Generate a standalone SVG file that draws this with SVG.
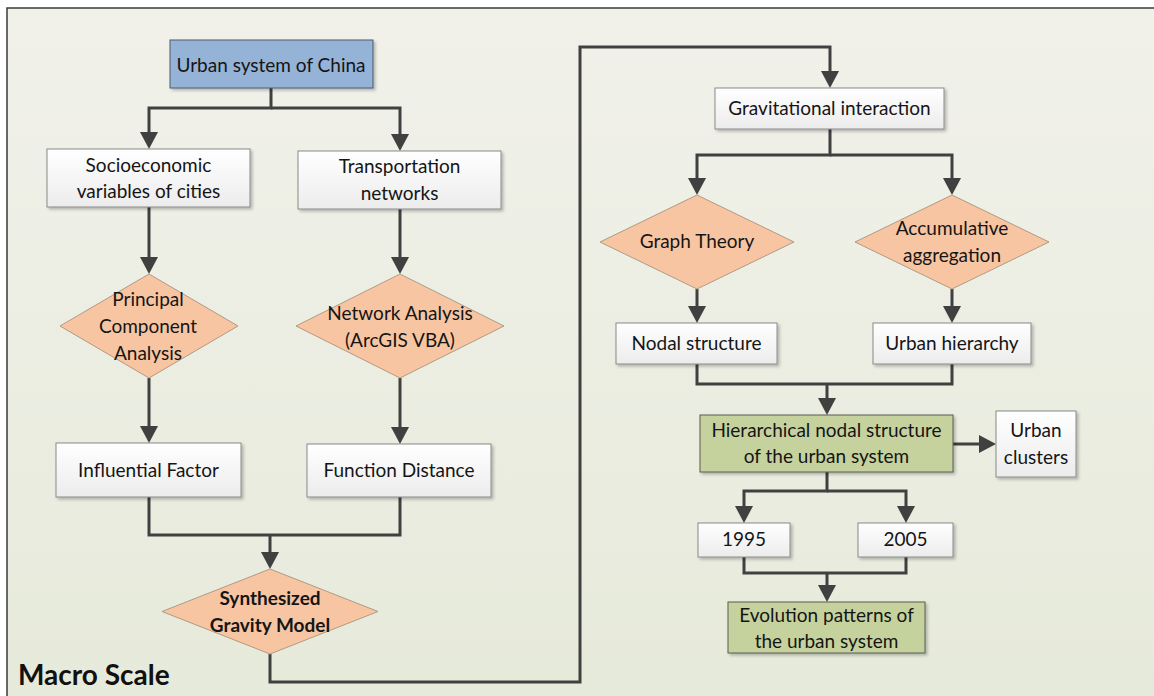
<svg xmlns="http://www.w3.org/2000/svg" width="1154" height="696" viewBox="0 0 1154 696">
<style>
.t{font-family:Lato,"Liberation Sans",sans-serif;font-size:19px;fill:#151515;text-anchor:middle}
.b{font-weight:bold}
.box{fill:url(#gw);stroke:#8a8a8a;stroke-width:1;filter:url(#sh)}
.blue{fill:#95b3d7;stroke:#4a5a70;stroke-width:1;filter:url(#sh)}
.green{fill:#c6d29e;stroke:#5a5a50;stroke-width:1;filter:url(#sh)}
.dia{fill:#f8c5a2;stroke:#b09a84;stroke-width:1}
.c{fill:none;stroke:#404040;stroke-width:3}
.a{marker-end:url(#ah)}
</style>
<defs>
<linearGradient id="bg" x1="0" y1="0" x2="0" y2="1">
<stop offset="0" stop-color="#f1f1ea"/>
<stop offset="1" stop-color="#e6eada"/>
</linearGradient>
<linearGradient id="gw" x1="0" y1="0" x2="0" y2="1">
<stop offset="0" stop-color="#ffffff"/>
<stop offset="1" stop-color="#ececec"/>
</linearGradient>
<filter id="sh" x="-10%" y="-20%" width="130%" height="150%">
<feDropShadow dx="2" dy="2" stdDeviation="1.5" flood-color="#000" flood-opacity="0.25"/>
</filter>
<marker id="ah" viewBox="0 0 17 18" markerWidth="17" markerHeight="18" refX="13" refY="9" orient="auto" markerUnits="userSpaceOnUse">
<path d="M0,0 L17,9 L0,18 z" fill="#404040"/>
</marker>
</defs>
<rect x="0" y="0" width="1154" height="696" fill="#ffffff"/>
<rect x="7" y="8" width="1150" height="700" fill="url(#bg)"/>
<path d="M7,710 V8 H1154" fill="none" stroke="#3a3a3a" stroke-width="1.5"/>

<g id="connectors">
<path class="c a" d="M271,88 V108 H149 V145"/>
<path class="c a" d="M271,108 H400 V147"/>
<path class="c a" d="M149,207 V270"/>
<path class="c a" d="M400,209 V270"/>
<path class="c a" d="M149,378 V439"/>
<path class="c a" d="M400,378 V440"/>
<path class="c" d="M149,497 V535 H400 V497"/>
<path class="c a" d="M270,535 V565"/>
<path class="c a" d="M270,654 V682 H580 V47 H830 V84"/>
<path class="c a" d="M830,129 V155 H697 V191"/>
<path class="c a" d="M830,155 H952 V191"/>
<path class="c a" d="M697,289 V319"/>
<path class="c a" d="M952,289 V319"/>
<path class="c" d="M697,364 V384 H952 V364"/>
<path class="c a" d="M827,384 V411"/>
<path class="c a" d="M953,444 H992"/>
<path class="c a" d="M827,472 V491 H744 V519"/>
<path class="c a" d="M827,491 H906 V519"/>
<path class="c" d="M744,557 V573 H906 V557"/>
<path class="c a" d="M827,573 V598"/>
</g>

<g id="urban-system">
<rect class="blue" x="170" y="40" width="203" height="48"/>
<text class="t" x="271" y="72">Urban system of China</text>
</g>
<g id="socioeconomic">
<rect class="box" x="47" y="149" width="203" height="58"/>
<text class="t" x="148.5" y="172">Socioeconomic</text>
<text class="t" x="148.5" y="198">variables of cities</text>
</g>
<g id="transportation">
<rect class="box" x="298" y="151" width="203" height="58"/>
<text class="t" x="399.5" y="173">Transportation</text>
<text class="t" x="399.5" y="200">networks</text>
</g>
<g id="pca">
<polygon class="dia" points="149,274 238,326 149,378 60,326"/>
<text class="t" x="148" y="306">Principal</text>
<text class="t" x="148" y="333">Component</text>
<text class="t" x="148" y="360">Analysis</text>
</g>
<g id="network-analysis">
<polygon class="dia" points="400,274 504,326 400,378 296,326"/>
<text class="t" x="400" y="320">Network Analysis</text>
<text class="t" x="400" y="347">(ArcGIS VBA)</text>
</g>
<g id="influential-factor">
<rect class="box" x="56" y="443" width="185" height="54"/>
<text class="t" x="148.5" y="477">Influential Factor</text>
</g>
<g id="function-distance">
<rect class="box" x="307" y="444" width="184" height="53"/>
<text class="t" x="399" y="477">Function Distance</text>
</g>
<g id="gravity-model">
<polygon class="dia" points="270,569 378,611.5 270,654 162,611.5"/>
<text class="t b" x="270" y="605">Synthesized</text>
<text class="t b" x="270" y="632">Gravity Model</text>
</g>
<g id="macro-scale">
<text x="18" y="685" style="font-family:Lato,'Liberation Sans',sans-serif;font-size:28px;font-weight:bold;fill:#111">Macro Scale</text>
</g>
<g id="gravitational">
<rect class="box" x="715" y="88" width="229" height="41"/>
<text class="t" x="829.5" y="115">Gravitational interaction</text>
</g>
<g id="graph-theory">
<polygon class="dia" points="697,195 794,242 697,289 600,242"/>
<text class="t" x="697" y="248">Graph Theory</text>
</g>
<g id="accumulative">
<polygon class="dia" points="952,195 1049,242 952,289 855,242"/>
<text class="t" x="952" y="235">Accumulative</text>
<text class="t" x="952" y="262">aggregation</text>
</g>
<g id="nodal-structure">
<rect class="box" x="616" y="323" width="161" height="41"/>
<text class="t" x="696.5" y="350">Nodal structure</text>
</g>
<g id="urban-hierarchy">
<rect class="box" x="873" y="323" width="158" height="41"/>
<text class="t" x="952" y="350">Urban hierarchy</text>
</g>
<g id="hierarchical">
<rect class="green" x="700" y="415" width="253" height="57"/>
<text class="t" x="826.5" y="437">Hierarchical nodal structure</text>
<text class="t" x="826.5" y="463">of the urban system</text>
</g>
<g id="urban-clusters">
<rect class="box" x="996" y="411" width="80" height="66"/>
<text class="t" x="1036" y="437">Urban</text>
<text class="t" x="1036" y="464">clusters</text>
</g>
<g id="y1995">
<rect class="box" x="698" y="523" width="92" height="34"/>
<text class="t" x="744" y="546">1995</text>
</g>
<g id="y2005">
<rect class="box" x="858" y="523" width="95" height="34"/>
<text class="t" x="905.5" y="546">2005</text>
</g>
<g id="evolution">
<rect class="green" x="728" y="602" width="197" height="51"/>
<text class="t" x="826.5" y="622">Evolution patterns of</text>
<text class="t" x="826.5" y="648">the urban system</text>
</g>
</svg>
